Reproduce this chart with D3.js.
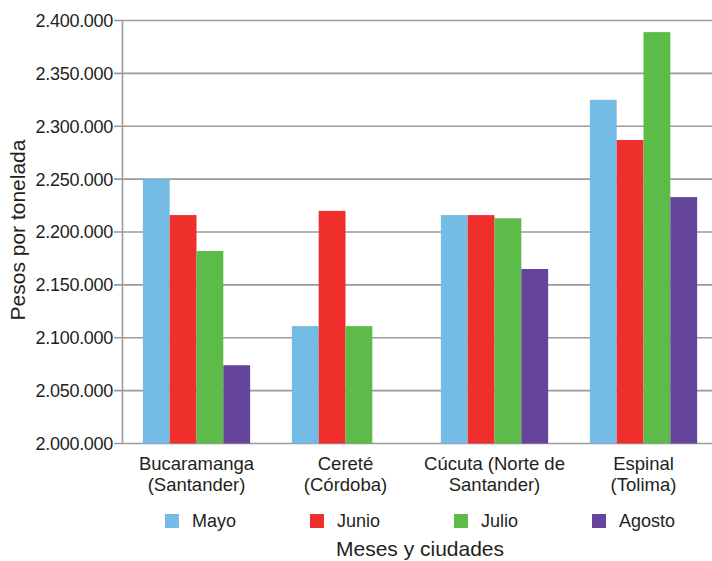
<!DOCTYPE html>
<html>
<head>
<meta charset="utf-8">
<script src="https://cdn.jsdelivr.net/npm/d3@7"></script>
<style>
  body { margin: 0; background: #fff; }
  text { font-family: "Liberation Sans", Arial, sans-serif; fill: #231f20; }
</style>
</head>
<body>
<div id="chart"></div>
<script>
var width = 712,
    height = 561;

// data
var cities = [
  ["Bucaramanga", "(Santander)"],
  ["Cereté", "(Córdoba)"],
  ["Cúcuta (Norte de", "Santander)"],
  ["Espinal", "(Tolima)"]];

var months = ["Mayo", "Junio", "Julio", "Agosto"];
var colors = ["#74bbe6", "#ee2f2c", "#5dbb4a", "#65459b"];

var mayo   = [2250000, 2111000, 2216000, 2325000];
var junio  = [2216000, 2220000, 2216000, 2287000];
var julio  = [2182000, 2111000, 2213000, 2389000];
var agosto = [2074000, null,    2165000, 2233000];

var yTicks = [2000000, 2050000, 2100000, 2150000, 2200000, 2250000, 2300000, 2350000, 2400000];

var series = [mayo, junio, julio, agosto];

var svg = d3.select("#chart")
    .append("svg")
    .attr("width", width)
    .attr("height", height);

var x = d3.scaleBand()
    .domain(d3.range(cities.length))
    .range([122, 718])
    .paddingInner(0.28)
    .paddingOuter(0.14);

var xInner = d3.scaleBand()
    .domain(d3.range(months.length))
    .range([0, x.bandwidth()]);

var y = d3.scaleLinear()
    .domain([2000000, 2400000])
    .range([443.5, 20.5]);

var es = d3.formatLocale({decimal: ",", thousands: ".", grouping: [3], currency: ["$", ""]});
var fmt = es.format(",");

// gridlines
svg.append("g")
    .selectAll("line")
    .data(yTicks)
    .enter()
    .append("line")
    .attr("x1", 114)
    .attr("x2", width)
    .attr("y1", function(d) { return y(d); })
    .attr("y2", function(d) { return y(d); })
    .attr("stroke", "#9a9a9a")
    .attr("stroke-width", 1.6);

// bars
var groups = svg.append("g")
    .selectAll("g")
    .data(series)
    .enter()
    .append("g")
    .attr("fill", function(d, i) { return colors[i]; });

groups.each(function(s, si) {
  d3.select(this)
    .selectAll("rect")
    .data(s.map(function(v, ci) { return {v: v, c: ci}; }).filter(function(d) { return d.v != null; }))
    .enter()
    .append("rect")
    .attr("x", function(d) { return x(d.c) + xInner(si); })
    .attr("width", xInner.bandwidth())
    .attr("y", function(d) { return y(d.v); })
    .attr("height", function(d) { return y(2000000) - y(d.v); });
});

// left axis line
svg.append("line")
    .attr("x1", 122.5).attr("x2", 122.5)
    .attr("y1", y(2400000)).attr("y2", y(2000000))
    .attr("stroke", "#9a9a9a")
    .attr("stroke-width", 1.6);

svg.append("g")
    .selectAll("text")
    .data(yTicks)
    .enter()
    .append("text")
    .attr("x", 113)
    .attr("y", function(d) { return y(d); })
    .attr("dy", "0.36em")
    .attr("text-anchor", "end")
    .style("font-size", "18px")
    .style("letter-spacing", "-0.3px")
    .text(function(d) { return fmt(d); });

// category labels
var catLabels = svg.append("g")
    .selectAll("text")
    .data(cities)
    .enter()
    .append("text")
    .attr("text-anchor", "middle")
    .style("font-size", "18.5px");

catLabels.each(function(d, i) {
  var t = d3.select(this);
  d.forEach(function(line, li) {
    t.append("tspan")
      .attr("x", x(i) + x.bandwidth() / 2)
      .attr("y", 470 + li * 21)
      .text(line);
  });
});

// legend
var legend = svg.append("g");
var items = legend.selectAll("g")
    .data(months)
    .enter()
    .append("g");

items.append("rect")
    .attr("width", 14)
    .attr("height", 14)
    .attr("y", 514)
    .attr("fill", function(d, i) { return colors[i]; });

items.append("text")
    .attr("x", 27)
    .attr("y", 527)
    .style("font-size", "18px")
    .text(function(d) { return d; });

var pos = 0, offsets = [];
items.each(function() {
  offsets.push(pos);
  pos += 27 + this.querySelector("text").getComputedTextLength() + 74;
});
var total = pos - 74;
var start = 420 - total / 2;
items.attr("transform", function(d, i) { return "translate(" + (start + offsets[i]) + ",0)"; });

// axis titles
svg.append("text")
    .attr("x", 420)
    .attr("y", 556)
    .attr("text-anchor", "middle")
    .style("font-size", "21px")
    .text("Meses y ciudades");

svg.append("text")
    .attr("transform", "translate(25,230) rotate(-90)")
    .attr("text-anchor", "middle")
    .style("font-size", "21px")
    .text("Pesos por tonelada");
</script>
</body>
</html>
